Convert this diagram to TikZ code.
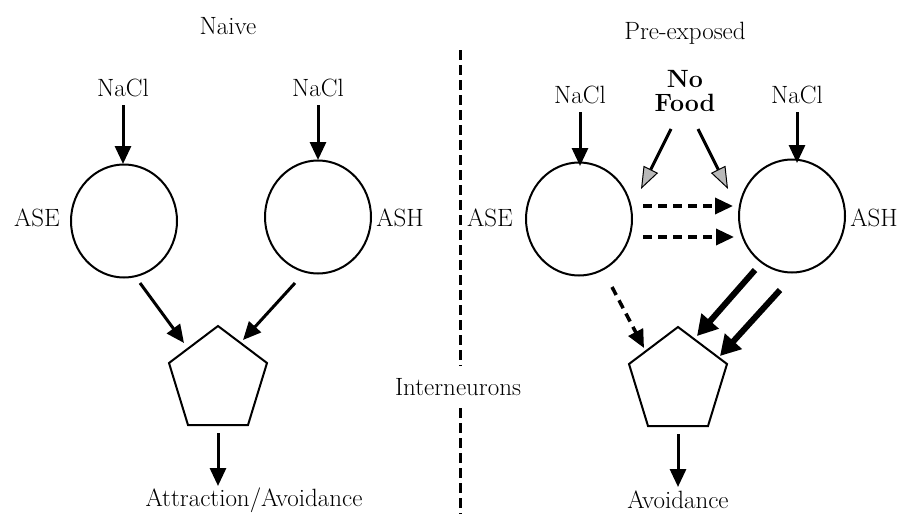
\documentclass[tikz,border=0pt]{standalone}
\usetikzlibrary{arrows.meta,shapes.geometric}
\begin{document}
\begin{tikzpicture}[x=1pt,y=-1pt,
  lbl/.style={font=\fontsize{25}{28}\selectfont, inner sep=0pt},
  boldlbl/.style={font=\fontsize{25}{25}\selectfont\bfseries, inner sep=0pt, align=center},
  cell/.style={draw, line width=2pt, ellipse, minimum width=106pt, minimum height=113pt, inner sep=0pt},
  pentline/.style={draw, line width=2pt, line join=miter},
  arr/.style={line width=3pt, -{Triangle[length=18pt,width=16pt]}},
  thickarr/.style={line width=6pt, -{Triangle[length=20pt,width=22pt]}},
  grayarr/.style={line width=3pt, -{Triangle[length=22pt,width=16pt,fill=gray!55,line width=1pt]}},
  dasharr/.style={line width=3.5pt, dash pattern=on 9pt off 6pt, -{Triangle[length=18pt,width=16pt]}},
  divider/.style={line width=3pt, dash pattern=on 10pt off 5pt}
]
\useasboundingbox (0,0) rectangle (915,514);

% headings
\node[lbl] (naive) at (228,26) {Naive};
\node[lbl] (pre) at (685,33) {Pre-exposed};

% divider
\coordinate (dtop) at (460,50);
\coordinate (dmid1) at (460,366);
\node[lbl] (inter) at (458,387) {Interneurons};
\coordinate (dmid2) at (460,408);
\coordinate (dbot) at (460,514);
\draw[divider] (dtop) -- (dmid1);
\draw[divider] (dmid2) -- (dbot);

% ---------- left: naive ----------
\node[lbl] (nacl1) at (123,88) {NaCl};
\node[lbl] (nacl2) at (318,88) {NaCl};
\node[cell] (ase1) at (124,221) {};
\node[cell] (ash1) at (318,217) {};
\node[lbl] (ase1l) at (37,218) {ASE};
\node[lbl] (ash1l) at (400,218) {ASH};
% pentagon (interneurons)
\coordinate (p1a) at (218,326);
\coordinate (p1b) at (267,363);
\coordinate (p1c) at (248,425);
\coordinate (p1d) at (188,425);
\coordinate (p1e) at (169,363);
\draw[pentline] (p1a) -- (p1b) -- (p1c) -- (p1d) -- (p1e) -- cycle;
\node[lbl] (out1) at (254,500) {Attraction/Avoidance};

\coordinate (n1s) at (123,105);
\coordinate (n1e) at (123,164);
\coordinate (n2s) at (318,105);
\coordinate (n2e) at (318,160);
\draw[arr] (n1s) -- (n1e);
\draw[arr] (n2s) -- (n2e);

\coordinate (a1s) at (140,283);
\coordinate (a1e) at (184,343);
\coordinate (a2s) at (295,283);
\coordinate (a2e) at (243,340);
\draw[arr] (a1s) -- (a1e);
\draw[arr] (a2s) -- (a2e);

\coordinate (o1s) at (218,433);
\coordinate (o1e) at (218,486);
\draw[arr] (o1s) -- (o1e);

% ---------- right: pre-exposed ----------
\node[lbl] (nacl3) at (580,95) {NaCl};
\node[lbl] (nacl4) at (797,95) {NaCl};
\node[boldlbl] (food) at (685,91) {No\\[-1pt]Food};
\node[cell] (ase2) at (579,219) {};
\node[cell] (ash2) at (792,216) {};
\node[lbl] (ase2l) at (490,218) {ASE};
\node[lbl] (ash2l) at (874,218) {ASH};
\coordinate (p2a) at (678,327);
\coordinate (p2b) at (727,364);
\coordinate (p2c) at (708,426);
\coordinate (p2d) at (648,426);
\coordinate (p2e) at (629,364);
\draw[pentline] (p2a) -- (p2b) -- (p2c) -- (p2d) -- (p2e) -- cycle;
\node[lbl] (out2) at (678,500) {Avoidance};

\coordinate (n3s) at (580,112);
\coordinate (n3e) at (580,166);
\coordinate (n4s) at (797,112);
\coordinate (n4e) at (797,163);
\draw[arr] (n3s) -- (n3e);
\draw[arr] (n4s) -- (n4e);

\coordinate (g1s) at (671,129);
\coordinate (g1e) at (641,189);
\coordinate (g2s) at (698,129);
\coordinate (g2e) at (728,189);
\draw[grayarr] (g1s) -- (g1e);
\draw[grayarr] (g2s) -- (g2e);

\coordinate (d1s) at (643,206);
\coordinate (d1e) at (733,206);
\coordinate (d2s) at (643,237);
\coordinate (d2e) at (734,237);
\draw[dasharr] (d1s) -- (d1e);
\draw[dasharr] (d2s) -- (d2e);

\coordinate (d3s) at (612,287);
\coordinate (d3e) at (644,348);
\draw[dasharr] (d3s) -- (d3e);

\coordinate (t1s) at (755,270);
\coordinate (t1e) at (697,336);
\coordinate (t2s) at (780,290);
\coordinate (t2e) at (720,356);
\draw[thickarr] (t1s) -- (t1e);
\draw[thickarr] (t2s) -- (t2e);

\coordinate (o2s) at (678,434);
\coordinate (o2e) at (678,487);
\draw[arr] (o2s) -- (o2e);
\end{tikzpicture}
\end{document}
